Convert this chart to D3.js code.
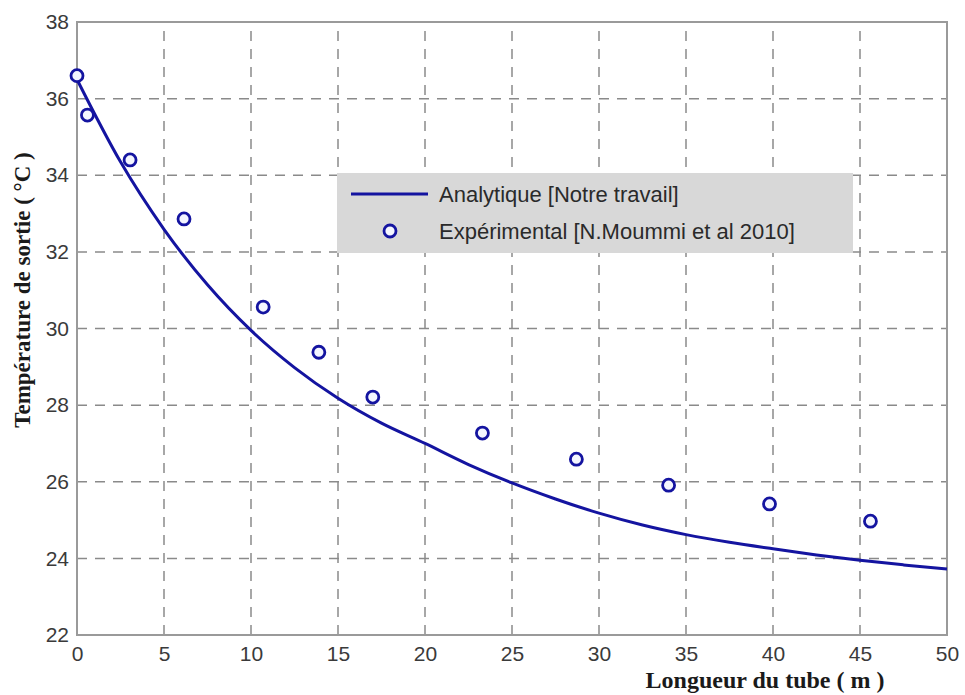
<!DOCTYPE html>
<html>
<head>
<meta charset="utf-8">
<script src="https://cdn.jsdelivr.net/npm/d3@7"></script>
<style>
  html, body { margin: 0; padding: 0; background: #fff; }
  svg { display: block; }
</style>
</head>
<body>
<svg id="chart" width="965" height="695"></svg>
<script>
// Analytical model: outlet temperature along the tube
const modelLength = [0, 2.5, 5, 7.5, 10, 12.5, 15, 17.5, 20, 22.5, 25, 27.5, 30, 32.5, 35, 37.5, 40, 42.5, 45, 47.5, 50];
const modelTemp   = [36.5, 34.35, 32.59, 31.14, 29.95, 28.98, 28.18, 27.53, 27.0, 26.45, 25.97, 25.55, 25.18, 24.87, 24.62, 24.42, 24.25, 24.09, 23.95, 23.83, 23.72];

// Experimental measurements
const expLength = [0, 0.6, 3.05, 6.15, 10.7, 13.9, 17.0, 23.3, 28.7, 34.0, 39.8, 45.6];
const expTemp   = [36.6, 35.57, 34.4, 32.86, 30.56, 29.38, 28.21, 27.27, 26.59, 25.91, 25.42, 24.97];

const xTicks = [0, 5, 10, 15, 20, 25, 30, 35, 40, 45, 50];
const yTicks = [22, 24, 26, 28, 30, 32, 34, 36, 38];

const legendLabels = ["Analytique [Notre travail]", "Expérimental [N.Moummi et al 2010]"];

const svg = d3.select("#chart");
const margin = { left: 77, right: 18, top: 22, bottom: 60 };
const W = 965, H = 695;

const x = d3.scaleLinear().domain([0, 50]).range([margin.left, W - margin.right]);
const y = d3.scaleLinear().domain([22, 38]).range([H - margin.bottom, margin.top]);

const blue = "#1414a0";
const gridColor = "#8a8a8a";
const sans = "Liberation Sans, Arial, sans-serif";
const serif = "Liberation Serif, Times New Roman, serif";

// dashed grid
const grid = svg.append("g");
grid.selectAll(".vg").data(xTicks.slice(1, -1)).join("line")
  .attr("x1", d => x(d)).attr("x2", d => x(d))
  .attr("y1", y(22)).attr("y2", y(38))
  .attr("stroke", gridColor).attr("stroke-width", 1.5)
  .attr("stroke-dasharray", "10,8");
grid.selectAll(".hg").data(yTicks.slice(1, -1)).join("line")
  .attr("y1", d => y(d)).attr("y2", d => y(d))
  .attr("x1", x(0)).attr("x2", x(50))
  .attr("stroke", gridColor).attr("stroke-width", 1.5)
  .attr("stroke-dasharray", "10,8");

// axes
const xAxis = svg.append("g")
  .attr("transform", `translate(0,${y(22)})`)
  .call(d3.axisBottom(x).tickValues(xTicks).tickSize(0).tickPadding(11));
const yAxis = svg.append("g")
  .attr("transform", `translate(${x(0)},0)`)
  .call(d3.axisLeft(y).tickValues(yTicks).tickSize(0).tickPadding(8));
[xAxis, yAxis].forEach(a => {
  a.select(".domain").remove();
  a.selectAll("text")
    .attr("font-family", sans)
    .attr("font-size", 21)
    .attr("fill", "#3a3a3a");
});

// plot box
svg.append("rect")
  .attr("x", x(0)).attr("y", y(38))
  .attr("width", x(50) - x(0)).attr("height", y(22) - y(38))
  .attr("fill", "none").attr("stroke", "#9a9a9a").attr("stroke-width", 2);

// analytical curve
const line = d3.line().x((d, i) => x(modelLength[i])).y(d => y(d)).curve(d3.curveMonotoneX);
svg.append("path")
  .datum(modelTemp)
  .attr("d", line)
  .attr("fill", "none").attr("stroke", blue).attr("stroke-width", 3);

// experimental markers
svg.append("g").selectAll("circle").data(expTemp).join("circle")
  .attr("cx", (d, i) => x(expLength[i]))
  .attr("cy", d => y(d))
  .attr("r", 6)
  .attr("fill", "#f4f6ff").attr("stroke", blue).attr("stroke-width", 2.8);

// legend
const lg = svg.append("g");
lg.append("rect")
  .attr("x", 337).attr("y", 173).attr("width", 516).attr("height", 80)
  .attr("fill", "#d8d8d8");
lg.append("line")
  .attr("x1", 351).attr("x2", 428).attr("y1", 194).attr("y2", 194)
  .attr("stroke", blue).attr("stroke-width", 3);
lg.append("circle")
  .attr("cx", 390).attr("cy", 231).attr("r", 6)
  .attr("fill", "#f4f6ff").attr("stroke", blue).attr("stroke-width", 2.8);
lg.selectAll("text").data(legendLabels).join("text")
  .attr("x", 439)
  .attr("y", (d, i) => 194 + i * 37)
  .attr("dy", "0.35em")
  .attr("font-family", sans)
  .attr("font-size", 22)
  .attr("fill", "#2a2a2a")
  .text(d => d);

// axis titles
svg.append("text")
  .attr("x", 765).attr("y", 688)
  .attr("text-anchor", "middle")
  .attr("font-family", serif)
  .attr("font-weight", "bold")
  .attr("font-size", 24)
  .attr("fill", "#1a1a1a")
  .text("Longueur du tube ( m )");

svg.append("text")
  .attr("transform", "translate(30,290) rotate(-90)")
  .attr("text-anchor", "middle")
  .attr("font-family", serif)
  .attr("font-weight", "bold")
  .attr("font-size", 23)
  .attr("fill", "#1a1a1a")
  .text("Température de sortie ( °C )");
</script>
</body>
</html>
